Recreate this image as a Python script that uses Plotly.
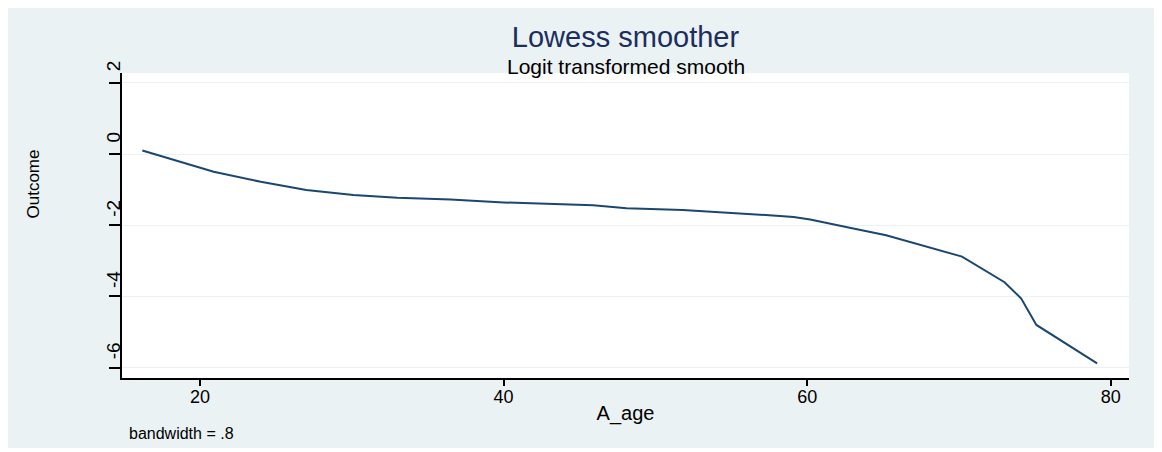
import plotly.graph_objects as go

# Data
age = [16.2, 18.2, 20.9, 24.0, 27.0, 30.1, 33.0, 36.5, 40.0, 45.9, 48.1, 51.8,
       55.1, 58.2, 59.1, 60.2, 62.8, 64.1, 65.2, 70.2, 73.0, 74.1, 75.1, 79.1]
smooth = [0.10, -0.15, -0.50, -0.78, -1.01, -1.15, -1.23, -1.28, -1.36, -1.44, -1.52, -1.57,
          -1.65, -1.74, -1.77, -1.84, -2.07, -2.19, -2.28, -2.88, -3.60, -4.06, -4.80, -5.88]

x_ticks = [20, 40, 60, 80]
y_ticks = [2, 0, -2, -4, -6]
y_tick_labels = ["2", "0", "-2", "-4", "-6"]

BG = "#EAF2F3"
LINE = "#1A476F"
FONT = "Liberation Sans, Arial, Helvetica, sans-serif"

fig = go.Figure()
fig.add_trace(go.Scatter(x=age, y=smooth, mode="lines",
                         line=dict(color=LINE, width=2), showlegend=False,
                         hoverinfo="x+y"))

fig.update_layout(
    width=1150, height=440,
    margin=dict(l=114, r=29, t=65, b=70),
    paper_bgcolor=BG,
    plot_bgcolor="white",
    font=dict(family=FONT, color="black"),
    title=dict(text="Lowess smoother", x=0.5, xref="paper", xanchor="center",
               y=1 - 29 / 440, yref="container", yanchor="middle",
               font=dict(size=29, color="#1C2E5E", family=FONT)),
    xaxis=dict(range=[14.86, 81.2], tickvals=x_ticks, ticks="outside", ticklen=6,
               tickwidth=1.5, tickcolor="black", showline=True, linecolor="black",
               linewidth=1.5, showgrid=False, zeroline=False,
               tickfont=dict(size=18, family=FONT), ticklabelstandoff=-4,
               title=dict(text="A_age", font=dict(size=20, family=FONT), standoff=0)),
    yaxis=dict(range=[-6.29, 2.275], tickvals=y_ticks, ticktext=y_tick_labels,
               ticks="outside", ticklen=11, tickwidth=1.5, tickcolor="black",
               showline=True, linecolor="black", linewidth=1.5,
               showgrid=True, gridcolor=BG, gridwidth=1, zeroline=False,
               tickangle=-90, tickfont=dict(size=19, family=FONT),
               ticklabelshift=-14, ticklabelstandoff=-18),
    annotations=[
        dict(text="Logit transformed smooth", xref="paper", yref="paper",
             x=0.5, y=1.0197, xanchor="center", yanchor="middle", showarrow=False,
             font=dict(size=21, family=FONT, color="black")),
        dict(text="Outcome", xref="paper", yref="paper", x=-0.0874, y=0.6377,
             xanchor="center", yanchor="middle", textangle=-90, showarrow=False,
             font=dict(size=17, family=FONT, color="black")),
        dict(text="bandwidth = .8", xref="paper", yref="paper", x=0.005, y=-0.1836,
             xanchor="left", yanchor="middle", showarrow=False,
             font=dict(size=16, family=FONT, color="black")),
    ],
)

fig.write_html("out.html")
